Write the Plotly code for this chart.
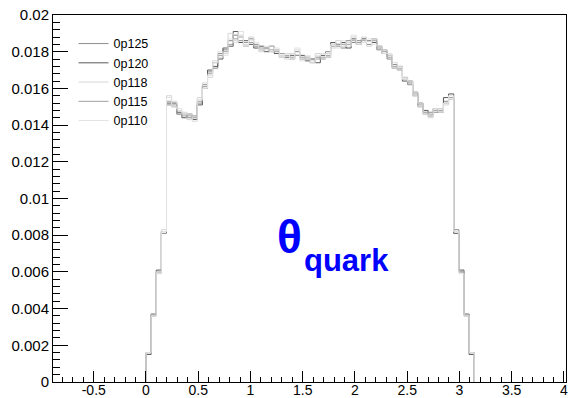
import math
import plotly.graph_objects as go

# Histogram of quark polar angle, 64 bins over [0, pi], normalised
n_bins = 64
x_lo, x_hi = 0.0, math.pi

series_names = ["0p125", "0p120", "0p118", "0p115", "0p110"]
series_colors = ["#8c8c8c", "#5a5a5a", "#d6d6d6", "#a0a0a0", "#e2e2e2"]

h_0p125 = [0.0016, 0.0036, 0.0060, 0.0081,
           0.0151, 0.0150, 0.0146, 0.0146, 0.0144, 0.0145, 0.0152, 0.0162, 0.0169, 0.0171, 0.0179, 0.0181,
           0.0186, 0.0189, 0.0186, 0.0183, 0.0187, 0.0184, 0.0181, 0.0182, 0.0180, 0.0181, 0.0177, 0.0179,
           0.0176, 0.0180, 0.0176, 0.0177, 0.0174, 0.0177, 0.0176, 0.0180, 0.0184, 0.0183, 0.0182, 0.0186,
           0.0185, 0.0186, 0.0185, 0.0184, 0.0187, 0.0181, 0.0181, 0.0176, 0.0173, 0.0170, 0.0166, 0.0162,
           0.0158, 0.0150, 0.0146, 0.0147, 0.0147, 0.0149, 0.0153, 0.0154,
           0.0083, 0.0060, 0.0036, 0.0016]

h_0p120 = [0.0015, 0.0037, 0.0061, 0.0082,
           0.0152, 0.0152, 0.0147, 0.0144, 0.0146, 0.0143, 0.0151, 0.0160, 0.0170, 0.0172, 0.0176, 0.0182,
           0.0183, 0.0191, 0.0185, 0.0186, 0.0184, 0.0182, 0.0183, 0.0180, 0.0183, 0.0179, 0.0179, 0.0177,
           0.0178, 0.0178, 0.0178, 0.0175, 0.0176, 0.0174, 0.0178, 0.0177, 0.0185, 0.0184, 0.0185, 0.0182,
           0.0187, 0.0184, 0.0187, 0.0186, 0.0185, 0.0183, 0.0179, 0.0178, 0.0171, 0.0172, 0.0164, 0.0164,
           0.0156, 0.0152, 0.0148, 0.0145, 0.0149, 0.0147, 0.0155, 0.0157,
           0.0081, 0.0061, 0.0037, 0.0015]

h_0p118 = [0.0016, 0.0037, 0.0059, 0.0083,
           0.0156, 0.0153, 0.0148, 0.0147, 0.0143, 0.0144, 0.0155, 0.0163, 0.0166, 0.0175, 0.0177, 0.0179,
           0.0190, 0.0186, 0.0189, 0.0184, 0.0188, 0.0183, 0.0180, 0.0181, 0.0183, 0.0181, 0.0178, 0.0176,
           0.0179, 0.0181, 0.0176, 0.0177, 0.0175, 0.0179, 0.0176, 0.0179, 0.0182, 0.0186, 0.0183, 0.0185,
           0.0188, 0.0185, 0.0188, 0.0183, 0.0187, 0.0182, 0.0181, 0.0178, 0.0174, 0.0170, 0.0166, 0.0163,
           0.0158, 0.0150, 0.0147, 0.0144, 0.0148, 0.0149, 0.0151, 0.0154,
           0.0082, 0.0060, 0.0037, 0.0016]

h_0p115 = [0.0016, 0.0037, 0.0060, 0.0082,
           0.0153, 0.0151, 0.0146, 0.0145, 0.0145, 0.0144, 0.0153, 0.0161, 0.0168, 0.0174, 0.0178, 0.0180,
           0.0184, 0.0187, 0.0188, 0.0185, 0.0185, 0.0183, 0.0182, 0.0182, 0.0181, 0.0180, 0.0179, 0.0178,
           0.0177, 0.0178, 0.0177, 0.0176, 0.0176, 0.0176, 0.0177, 0.0178, 0.0183, 0.0184, 0.0184, 0.0184,
           0.0186, 0.0185, 0.0186, 0.0186, 0.0186, 0.0182, 0.0180, 0.0177, 0.0172, 0.0171, 0.0165, 0.0163,
           0.0157, 0.0151, 0.0147, 0.0146, 0.0148, 0.0148, 0.0152, 0.0155,
           0.0082, 0.0060, 0.0037, 0.0016]

h_0p110 = [0.0016, 0.0036, 0.0060, 0.0082,
           0.0155, 0.0150, 0.0149, 0.0146, 0.0146, 0.0142, 0.0154, 0.0160, 0.0167, 0.0174, 0.0180, 0.0178,
           0.0187, 0.0185, 0.0191, 0.0183, 0.0186, 0.0185, 0.0181, 0.0183, 0.0180, 0.0182, 0.0177, 0.0179,
           0.0176, 0.0182, 0.0175, 0.0178, 0.0174, 0.0178, 0.0179, 0.0177, 0.0184, 0.0182, 0.0186, 0.0183,
           0.0189, 0.0184, 0.0185, 0.0187, 0.0184, 0.0183, 0.0179, 0.0179, 0.0171, 0.0172, 0.0165, 0.0164,
           0.0156, 0.0152, 0.0146, 0.0145, 0.0149, 0.0147, 0.0152, 0.0156,
           0.0082, 0.0059, 0.0036, 0.0016]

histos = [h_0p125, h_0p120, h_0p118, h_0p115, h_0p110]

x_tick_vals = [-0.5, 0, 0.5, 1, 1.5, 2, 2.5, 3, 3.5, 4]
x_tick_text = ["-0.5", "0", "0.5", "1", "1.5", "2", "2.5", "3", "3.5", "4"]
y_tick_vals = [0, 0.002, 0.004, 0.006, 0.008, 0.01, 0.012, 0.014, 0.016, 0.018, 0.02]
y_tick_text = ["0", "0.002", "0.004", "0.006", "0.008", "0.01", "0.012", "0.014", "0.016", "0.018", "0.02"]

width = (x_hi - x_lo) / n_bins
edges = [x_lo + i * width for i in range(n_bins + 1)]

fig = go.Figure()
for name, color, h in zip(series_names, series_colors, histos):
    # step outline: rise from zero at the first edge, fall back to zero at the last
    xs = [edges[0]] + edges[:-1] + [edges[-1]]
    ys = [0.0] + list(h) + [0.0]
    fig.add_trace(go.Scatter(
        x=xs, y=ys, mode="lines", name=name,
        line=dict(color=color, width=1, shape="hv"),
    ))

font_family = "Liberation Sans, Arial, Helvetica, sans-serif"

fig.update_layout(
    width=568, height=398,
    margin=dict(l=53, r=2, t=15, b=16, autoexpand=False),
    paper_bgcolor="white", plot_bgcolor="white",
    font=dict(family=font_family, size=14, color="black"),
    showlegend=True,
    legend=dict(
        x=0.04, y=0.962, xanchor="left", yanchor="top",
        bgcolor="rgba(0,0,0,0)", borderwidth=0,
        font=dict(size=12.5, family=font_family),
        itemwidth=30, tracegroupgap=0,
    ),
)

fig.update_xaxes(
    range=[-0.89, 4.02], automargin=False,
    showgrid=False, zeroline=False,
    showline=True, linecolor="black", linewidth=1, mirror=True,
    ticks="inside", ticklen=11, tickwidth=1, tickcolor="black",
    tickvals=x_tick_vals, ticktext=x_tick_text,
    tickfont=dict(size=14, family=font_family),
    ticklabelstandoff=-5, ticklabeloverflow="allow",
    minor=dict(ticks="inside", ticklen=5, dtick=0.1, tick0=0, tickcolor="black", showgrid=False),
)
fig.update_yaxes(
    range=[0, 0.02], automargin=False,
    showgrid=False, zeroline=False,
    showline=True, linecolor="black", linewidth=1, mirror=True,
    ticks="inside", ticklen=15, tickwidth=1, tickcolor="black",
    tickvals=y_tick_vals, ticktext=y_tick_text,
    tickfont=dict(size=15, family=font_family),
    minor=dict(ticks="inside", ticklen=7, dtick=0.0004, tick0=0, tickcolor="black", showgrid=False),
)

# variable label
fig.add_annotation(
    x=1.37, y=0.0079, xref="x", yref="y", text="<b>θ</b>", showarrow=False,
    font=dict(size=46, color="#0000ff", family=font_family),
    xanchor="center", yanchor="middle",
)
fig.add_annotation(
    x=1.92, y=0.0066, xref="x", yref="y", text="<b>quark</b>", showarrow=False,
    font=dict(size=31, color="#0000ff", family=font_family),
    xanchor="center", yanchor="middle",
)

fig.write_html("out.html")
